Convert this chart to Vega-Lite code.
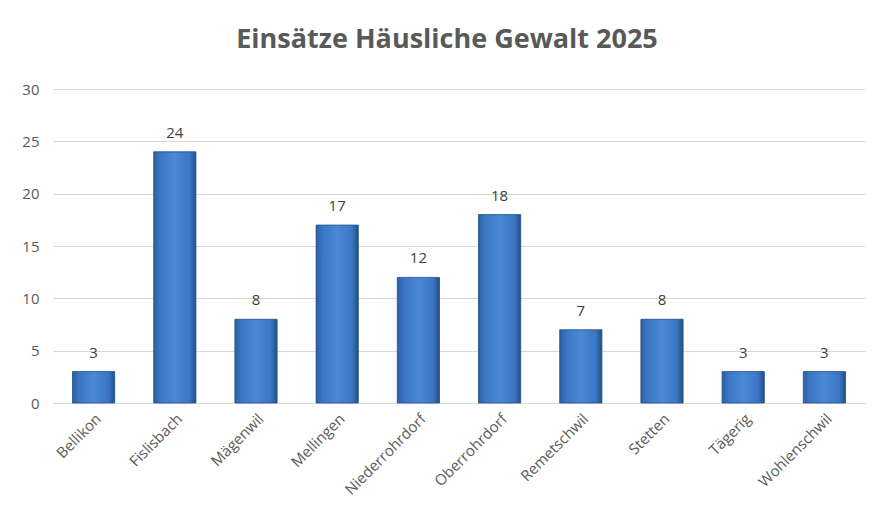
{
  "$schema": "https://vega.github.io/schema/vega-lite/v6.json",
  "width": 812,
  "height": 314,
  "autosize": {"type": "none"},
  "padding": {"left": 53, "top": 89, "right": 12, "bottom": 117},
  "background": "white",
  "title": {
    "text": "Einsätze Häusliche Gewalt 2025",
    "font": "Open Sans",
    "fontSize": 27,
    "fontWeight": "bold",
    "color": "#595959",
    "offset": 28,
    "dx": -12
  },
  "data": {
    "values": [
      {"Gemeinde": "Bellikon", "Einsätze": 3},
      {"Gemeinde": "Fislisbach", "Einsätze": 24},
      {"Gemeinde": "Mägenwil", "Einsätze": 8},
      {"Gemeinde": "Mellingen", "Einsätze": 17},
      {"Gemeinde": "Niederrohrdorf", "Einsätze": 12},
      {"Gemeinde": "Oberrohrdorf", "Einsätze": 18},
      {"Gemeinde": "Remetschwil", "Einsätze": 7},
      {"Gemeinde": "Stetten", "Einsätze": 8},
      {"Gemeinde": "Tägerig", "Einsätze": 3},
      {"Gemeinde": "Wohlenschwil", "Einsätze": 3}
    ]
  },
  "config": {
    "view": {"stroke": null},
    "font": "Open Sans"
  },
  "encoding": {
    "x": {
      "field": "Gemeinde",
      "type": "nominal",
      "sort": null,
      "title": null,
      "scale": {"paddingInner": 0.48, "paddingOuter": 0.24},
      "axis": {
        "labelAngle": -45,
        "labelFont": "Open Sans",
        "labelFontSize": 15,
        "labelColor": "#595959",
        "ticks": false,
        "domainColor": "#d9d9d9",
        "labelPadding": 8
      }
    },
    "y": {
      "field": "Einsätze",
      "type": "quantitative",
      "title": null,
      "scale": {"domain": [0, 30]},
      "axis": {
        "values": [0, 5, 10, 15, 20, 25, 30],
        "labelFont": "Open Sans",
        "labelFontSize": 15,
        "labelColor": "#595959",
        "ticks": false,
        "domain": false,
        "gridColor": "#d9d9d9",
        "labelPadding": 14
      }
    }
  },
  "layer": [
    {
      "mark": {
        "type": "bar",
        "stroke": "#1f4e8c",
        "strokeWidth": 0.8,
        "color": {
          "gradient": "linear",
          "x1": 0, "x2": 1, "y1": 0, "y2": 0,
          "stops": [
            {"offset": 0, "color": "#2c5f9f"},
            {"offset": 0.15, "color": "#3a76c4"},
            {"offset": 0.5, "color": "#4a88d6"},
            {"offset": 0.85, "color": "#3a76c4"},
            {"offset": 1, "color": "#224f88"}
          ]
        }
      }
    },
    {
      "mark": {
        "type": "text",
        "dy": -19,
        "fontSize": 15,
        "color": "#404040",
        "font": "Open Sans"
      },
      "encoding": {
        "text": {"field": "Einsätze", "type": "quantitative"}
      }
    }
  ]
}
